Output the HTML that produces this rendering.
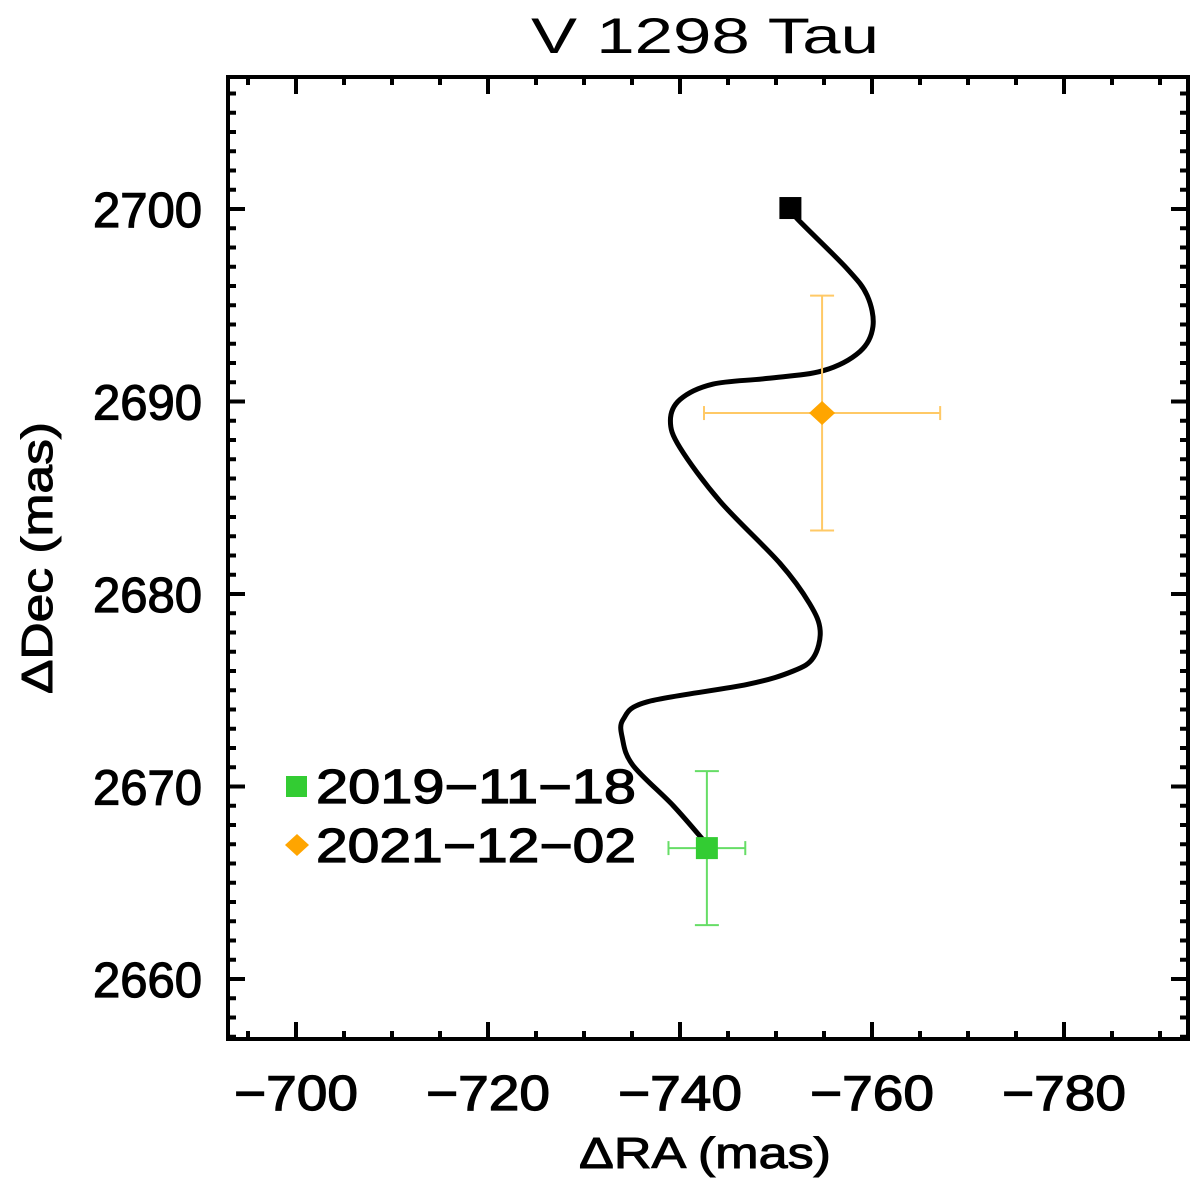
<!DOCTYPE html>
<html><head><meta charset="utf-8"><style>
html,body{margin:0;padding:0;background:#fff;}
svg{display:block;font-family:"Liberation Sans",sans-serif;}
</style></head><body>
<svg id="chart" width="1200" height="1191" viewBox="0 0 1200 1191" xmlns="http://www.w3.org/2000/svg">
<text x="705" y="53" font-size="50" text-anchor="middle" textLength="348" lengthAdjust="spacingAndGlyphs">V 1298 Tau</text>
<g id="plot"></g>
<text x="705" y="1168" font-size="44" text-anchor="middle" stroke="#000" stroke-width="1" textLength="252" lengthAdjust="spacingAndGlyphs">ΔRA (mas)</text>
<text transform="translate(52,558) rotate(-90)" font-size="44" text-anchor="middle" stroke="#000" stroke-width="1" textLength="272" lengthAdjust="spacingAndGlyphs">ΔDec (mas)</text>
</svg>
<script>
const xTicks = [-700, -720, -740, -760, -780];
const yTicks = [2660, 2670, 2680, 2690, 2700];
const trackRA = [-751.5,-752.2,-757.4,-759.5,-760.1,-758.75,-754.9,-749.1,-743.4,-740.0,-739.0,-740.0,-744.2,-750.4,-753.5,-754.6,-753.9,-751.8,-747.0,-736.6,-734.1,-734.0,-735.1,-739.3,-742.8];
const trackDec = [2700.05,2699.5,2696.9,2695.5,2693.9,2692.6,2691.6,2691.2,2690.9,2690.1,2689.0,2687.6,2684.8,2681.6,2679.5,2678.1,2676.7,2676.0,2675.3,2674.4,2673.5,2672.5,2671.1,2669.0,2667.0];
const obsLabels = ["2019-11-18", "2021-12-02"];
const obsRA = [-742.8, -754.8];
const obsDec = [2666.8, 2689.4];
const obsErrRA = [4.0, 12.3];
const obsErrDec = [4.0, 6.1];

const L=228,R=1188,T=77,B=1039;
const X = v => 296 + (-700 - v) * 9.6;
const Y = v => 209 + (2700 - v) * 19.25;
const NS="http://www.w3.org/2000/svg";
const g=document.getElementById('plot');
function mk(tag, at, parent){const e=document.createElementNS(NS,tag);for(const k in at)e.setAttribute(k,at[k]);(parent||g).appendChild(e);return e;}

const fr=mk('rect',{x:L,y:T,width:R-L,height:B-T,fill:'none',stroke:'#000','stroke-width':4});



for(let v=-690; v>=-790; v-=5){
  const x=X(v); if(x<L+2||x>R-2) continue;
  const major = v%20===0; const len=major?17:8;
  const t1=mk('line',{x1:x,y1:B,x2:x,y2:B-len,stroke:'#000','stroke-width':4});
  
  
  const t2=mk('line',{x1:x,y1:T,x2:x,y2:T+len,stroke:'#000','stroke-width':4});
  
  
}
xTicks.forEach(v=>{
  const t=mk('text',{x:X(v),y:1110,'font-size':49,'text-anchor':'middle',stroke:'#000','stroke-width':1.2,textLength:124,lengthAdjust:'spacingAndGlyphs'});
  t.textContent='\u2212'+Math.abs(v);
  
  
});
for(let v=2656; v<=2707; v++){
  const y=Y(v); if(y<T+2||y>B-2) continue;
  const major=v%10===0; const len=major?17:8;
  const t1=mk('line',{x1:L,y1:y,x2:L+len,y2:y,stroke:'#000','stroke-width':4});
  
  
  const t2=mk('line',{x1:R,y1:y,x2:R-len,y2:y,stroke:'#000','stroke-width':4});
  
  
}
yTicks.forEach(v=>{
  const t=mk('text',{x:202,y:Y(v)+18,'font-size':49,'text-anchor':'end',stroke:'#000','stroke-width':1.2});
  t.textContent=String(v);
  
  
});

const pts=trackRA.map((r,i)=>[X(r),Y(trackDec[i])]);
let d='M'+pts[0][0]+','+pts[0][1];
for(let i=0;i<pts.length-1;i++){
  const p0=pts[Math.max(0,i-1)],p1=pts[i],p2=pts[i+1],p3=pts[Math.min(pts.length-1,i+2)];
  const c1=[p1[0]+(p2[0]-p0[0])/6,p1[1]+(p2[1]-p0[1])/6];
  const c2=[p2[0]-(p3[0]-p1[0])/6,p2[1]-(p3[1]-p1[1])/6];
  d+=' C'+c1+' '+c2+' '+p2;
}
const tr=mk('path',{d:d,fill:'none',stroke:'#000','stroke-width':5,'stroke-linecap':'round','stroke-linejoin':'round'});


const bs=mk('rect',{x:pts[0][0]-11,y:pts[0][1]-11,width:22,height:22,fill:'#000'});



const colors=['#66dd66','#ffc966'];
const fills=['#33cc33','#ffa500'];
obsRA.forEach((r,i)=>{
  const cx=X(r), cy=Y(obsDec[i]);
  const x1=X(r-obsErrRA[i]), x2=X(r+obsErrRA[i]);
  const y1=Y(obsDec[i]+obsErrDec[i]), y2=Y(obsDec[i]-obsErrDec[i]);
  const eg=mk('g',{stroke:colors[i],'stroke-width':2});
  
  
  mk('line',{x1:x1,y1:cy,x2:x2,y2:cy},eg);
  mk('line',{x1:cx,y1:y1,x2:cx,y2:y2},eg);
  mk('line',{x1:x1,y1:cy-7,x2:x1,y2:cy+7},eg);
  mk('line',{x1:x2,y1:cy-7,x2:x2,y2:cy+7},eg);
  mk('line',{x1:cx-12,y1:y1,x2:cx+12,y2:y1},eg);
  mk('line',{x1:cx-12,y1:y2,x2:cx+12,y2:y2},eg);
  let m;
  if(i===0) m=mk('rect',{x:cx-11,y:cy-11,width:22,height:22,fill:fills[i]});
  else m=mk('polygon',{points:[cx,cy-12,cx+13,cy,cx,cy+12,cx-13,cy].join(' '),fill:fills[i]});
  
  
});

obsLabels.forEach((lab,i)=>{
  const ly=786+i*59;
  let m;
  if(i===0) m=mk('rect',{x:286,y:ly-10,width:21,height:21,fill:fills[i]});
  else m=mk('polygon',{points:[297,ly-11,309,ly,297,ly+11,285,ly].join(' '),fill:fills[i]});
  
  
  const t=mk('text',{x:316,y:ly+17,'font-size':48,stroke:'#000','stroke-width':1.2,textLength:320,lengthAdjust:'spacingAndGlyphs'});
  t.textContent=lab.replace(/-/g,'\u2212');
  
  
});
</script>
</body></html>
